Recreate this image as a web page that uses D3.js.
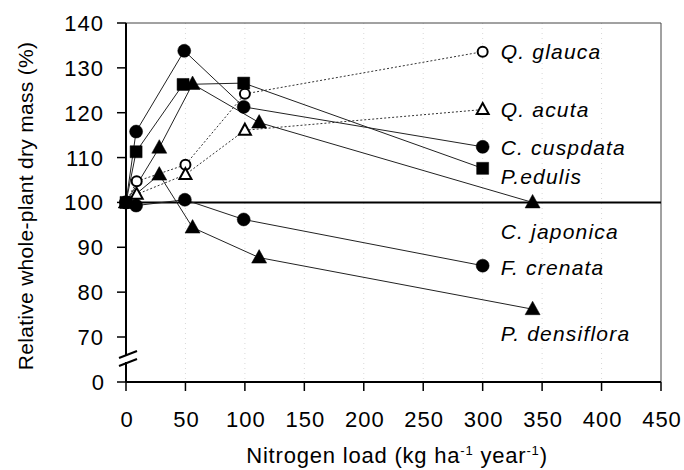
<!DOCTYPE html>
<html>
<head>
<meta charset="utf-8">
<script src="https://cdn.jsdelivr.net/npm/d3@7"></script>
<style>
  body { margin: 0; background: #fff; }
  text { font-family: "Liberation Sans", Arial, sans-serif; fill: #000; }
</style>
</head>
<body>
<div id="grafica"></div>
<script>
// Datos
const especies = ["Q. glauca", "Q. acuta", "C. cuspdata", "P.edulis", "C. japonica", "F. crenata", "P. densiflora"]
const marcas = ["circuloAbierto", "trianguloAbierto", "circulo", "cuadro", "triangulo", "circulo", "triangulo"]
const punteada = [true, true, false, false, false, false, false]
const cargaN = [
  [0, 9, 50, 100, 300],
  [0, 9, 50, 100, 300],
  [0, 8.5, 49, 99, 300],
  [0, 8.5, 48, 99, 300],
  [0, 28, 56, 112, 342],
  [0, 8.5, 49.5, 99, 300],
  [0, 28, 56, 112, 342]
]
const masa = [
  [100, 104.7, 108.4, 124.2, 133.6],
  [100, 101.8, 106.2, 116.1, 120.7],
  [100, 115.8, 133.8, 121.3, 112.4],
  [100, 111.3, 126.3, 126.6, 107.6],
  [100, 112.2, 126.4, 117.8, 100],
  [100, 99.3, 100.6, 96.2, 85.9],
  [100, 106.2, 94.4, 87.7, 76.2]
]
const ticksX = [0, 50, 100, 150, 200, 250, 300, 350, 400, 450]
const ticksY = [70, 80, 90, 100, 110, 120, 130, 140]
const lineaRef = 100

// desplazamiento vertical de cada etiqueta respecto a su ultimo punto
const dyEtiqueta = [7, 7, 8, 16, 37, 9, 32]

const ancho = 684, alto = 470
const x0 = 126, x1 = 661, yTop = 23, yBase = 382

const svg = d3.select("#grafica").append("svg")
  .attr("width", ancho).attr("height", alto)

const x = d3.scaleLinear().domain([0, 450]).range([x0, x1])
const y = d3.scaleLinear().domain([70, 140]).range([337, yTop])

// lineas tenues de la cuadricula (escaneo)
svg.append("g").selectAll("line")
  .data(ticksX.slice(1, -1))
  .join("line")
  .attr("x1", d => x(d)).attr("x2", d => x(d))
  .attr("y1", yTop).attr("y2", yBase)
  .attr("stroke", "#d8d8d8").attr("stroke-width", 1)
  .attr("stroke-dasharray", "1,4")

// marco
svg.append("line").attr("x1", x0).attr("x2", x1).attr("y1", yTop).attr("y2", yTop)
  .attr("stroke", "#444").attr("stroke-width", 1)
svg.append("line").attr("x1", x1).attr("x2", x1).attr("y1", yTop).attr("y2", yBase)
  .attr("stroke", "#444").attr("stroke-width", 1)

// linea de referencia 100 %
svg.append("line").attr("x1", x0).attr("x2", x1).attr("y1", y(lineaRef)).attr("y2", y(lineaRef))
  .attr("stroke", "#000").attr("stroke-width", 2)

// eje Y con corte
svg.append("line").attr("x1", x0).attr("x2", x0).attr("y1", yTop).attr("y2", 355)
  .attr("stroke", "#000").attr("stroke-width", 2)
svg.append("line").attr("x1", x0).attr("x2", x0).attr("y1", 362).attr("y2", yBase)
  .attr("stroke", "#000").attr("stroke-width", 2)
svg.append("line").attr("x1", x0 - 7).attr("x2", x0 + 11).attr("y1", 358).attr("y2", 351)
  .attr("stroke", "#000").attr("stroke-width", 2)
svg.append("line").attr("x1", x0 - 7).attr("x2", x0 + 11).attr("y1", 366).attr("y2", 359)
  .attr("stroke", "#000").attr("stroke-width", 2)

const ejeY = svg.append("g")
ejeY.selectAll("line").data(ticksY).join("line")
  .attr("x1", x0 - 9).attr("x2", x0).attr("y1", d => y(d)).attr("y2", d => y(d))
  .attr("stroke", "#000").attr("stroke-width", 1.5)
ejeY.selectAll("text").data(ticksY).join("text")
  .attr("x", 104).attr("y", d => y(d) + 8)
  .attr("text-anchor", "end")
  .style("font-size", "22px").style("letter-spacing", "1px")
  .text(d => d)
// el cero va sobre el eje X
ejeY.append("line").attr("x1", x0 - 9).attr("x2", x0).attr("y1", yBase).attr("y2", yBase)
  .attr("stroke", "#000").attr("stroke-width", 1.5)
ejeY.append("text").attr("x", 104).attr("y", yBase + 8).attr("text-anchor", "end")
  .style("font-size", "22px").text("0")

// eje X
svg.append("line").attr("x1", x0).attr("x2", x1).attr("y1", yBase).attr("y2", yBase)
  .attr("stroke", "#000").attr("stroke-width", 2)
const ejeX = svg.append("g")
ejeX.selectAll("line").data(ticksX).join("line")
  .attr("x1", d => x(d)).attr("x2", d => x(d)).attr("y1", yBase).attr("y2", yBase + 9)
  .attr("stroke", "#000").attr("stroke-width", 1.5)
ejeX.selectAll("text").data(ticksX).join("text")
  .attr("x", d => x(d) + 1).attr("y", 427)
  .attr("text-anchor", "middle")
  .style("font-size", "22px").style("letter-spacing", "1px")
  .text(d => d)

// titulos
const tx = svg.append("text").attr("x", 397).attr("y", 463).attr("text-anchor", "middle")
  .style("font-size", "22px").style("letter-spacing", "0.8px")
tx.append("tspan").text("Nitrogen load (kg ha")
tx.append("tspan").attr("dy", -8).style("font-size", "13px").text("-1")
tx.append("tspan").attr("dy", 8).text(" year")
tx.append("tspan").attr("dy", -8).style("font-size", "13px").text("-1")
tx.append("tspan").attr("dy", 8).text(")")

svg.append("text")
  .attr("transform", "translate(33,206) rotate(-90)")
  .attr("text-anchor", "middle")
  .style("font-size", "21px").style("letter-spacing", "0.3px")
  .text("Relative whole-plant dry mass (%)")

// series
const series = especies.map((nombre, i) => ({
  nombre, marca: marcas[i], punteada: punteada[i], dy: dyEtiqueta[i],
  puntos: cargaN[i].map((c, j) => ({ c, m: masa[i][j] }))
}))

const linea = d3.line().x(d => x(d.c)).y(d => y(d.m))

svg.append("g").selectAll("path")
  .data(series)
  .join("path")
  .attr("d", d => linea(d.puntos))
  .attr("fill", "none")
  .attr("stroke", d => d.punteada ? "#333" : "#222")
  .attr("stroke-width", 1)
  .attr("stroke-dasharray", d => d.punteada ? "2,2" : null)

const formas = {
  circulo: "M0,-6.5A6.5,6.5 0 1,1 0,6.5A6.5,6.5 0 1,1 0,-6.5Z",
  circuloAbierto: "M0,-5A5,5 0 1,1 0,5A5,5 0 1,1 0,-5Z",
  cuadro: "M-6,-6H6V6H-6Z",
  triangulo: "M0,-8L7.5,5.5L-7.5,5.5Z",
  trianguloAbierto: "M0,-6.5L6,4.5L-6,4.5Z"
}

// orden de dibujo: abiertas primero, cuadros al final
const orden = [0, 1, 5, 6, 4, 2, 3]
const gPuntos = svg.append("g")
orden.forEach(i => {
  const s = series[i]
  const abierta = s.marca.endsWith("Abierto")
  gPuntos.append("g").selectAll("path")
    .data(s.puntos)
    .join("path")
    .attr("transform", d => "translate(" + x(d.c) + "," + y(d.m) + ")")
    .attr("d", formas[s.marca])
    .attr("fill", abierta ? "#fff" : "#000")
    .attr("stroke", "#000")
    .attr("stroke-width", abierta ? 2 : 0.5)
})

// etiquetas de especie
svg.append("g").selectAll("text")
  .data(series)
  .join("text")
  .attr("x", x(300) + 18)
  .attr("y", d => y(d.puntos[d.puntos.length - 1].m) + d.dy)
  .style("font-size", "21px").style("font-style", "italic").style("letter-spacing", "1.2px")
  .text(d => d.nombre)
</script>
</body>
</html>
